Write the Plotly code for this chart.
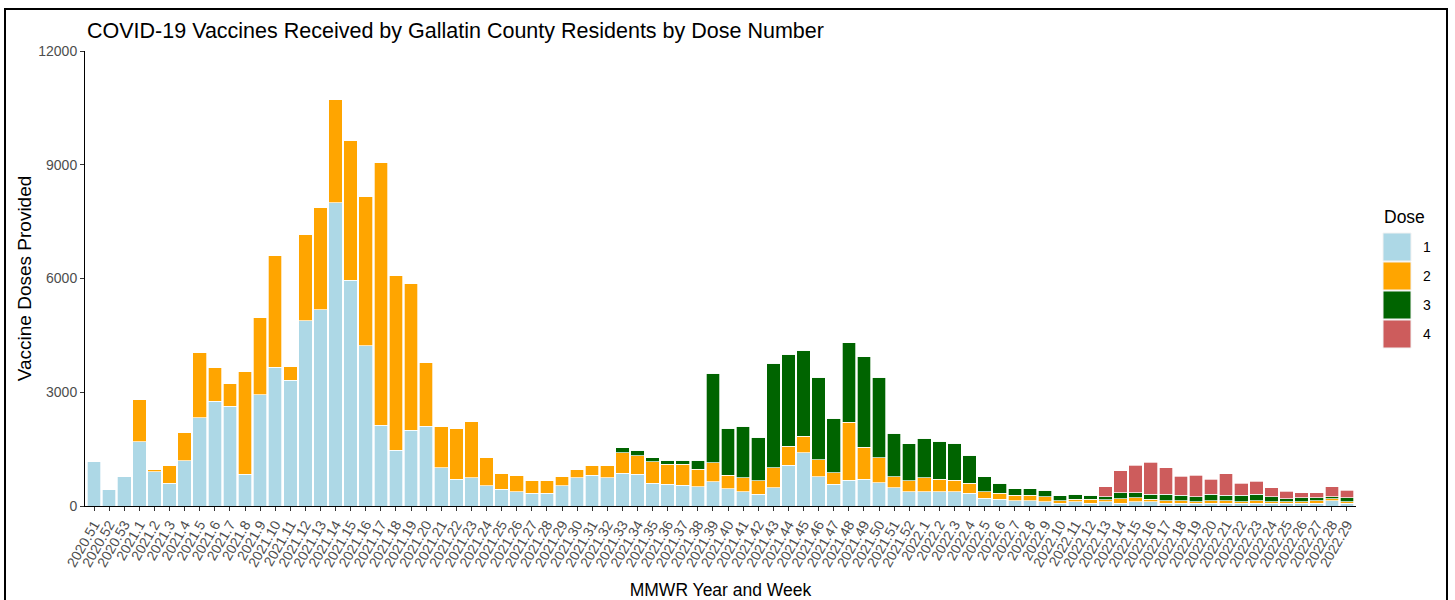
import plotly.graph_objects as go

weeks = ["2020.51", "2020.52", "2020.53"] + \
    ["2021.%d" % k for k in range(1, 53)] + ["2022.%d" % k for k in range(1, 30)]

dose1 = [1170, 440, 770, 1690, 900, 600, 1190, 2330, 2760, 2630,
         840, 2930, 3660, 3320, 4890, 5180, 8000, 5950, 4230, 2130,
         1470, 2000, 2100, 1010, 700, 740, 540, 440, 370, 340,
         340, 540, 740, 810, 740, 860, 840, 605, 580, 545,
         510, 640, 450, 380, 315, 475, 1080, 1405, 775, 580,
         675, 705, 615, 485, 380, 380, 380, 380, 335, 210,
         175, 140, 140, 115, 70, 115, 70, 115, 70, 115,
         115, 70, 70, 70, 70, 70, 70, 70, 70, 70,
         70, 70, 140, 70]

dose2 = [0, 0, 0, 1130, 65, 460, 740, 1720, 890, 600,
         2720, 2050, 2940, 370, 2280, 2700, 2730, 3680, 3940, 6930,
         4610, 3880, 1690, 1090, 1340, 1490, 730, 430, 440, 330,
         330, 240, 225, 250, 320, 540, 490, 560, 525, 560,
         465, 505, 360, 365, 355, 535, 500, 440, 440, 300,
         1530, 840, 660, 290, 290, 365, 330, 295, 270, 170,
         160, 140, 140, 130, 70, 60, 105, 45, 115, 105,
         60, 70, 70, 45, 70, 70, 45, 70, 45, 45,
         45, 70, 45, 45]

dose3 = [0, 0, 0, 0, 0, 0, 0, 0, 0, 0,
         0, 0, 0, 0, 0, 0, 0, 0, 0, 0,
         0, 0, 0, 0, 0, 0, 0, 0, 0, 0,
         0, 0, 0, 0, 0, 135, 135, 105, 100, 100,
         230, 2355, 1240, 1355, 1140, 2760, 2420, 2260, 2185, 1430,
         2095, 2395, 2125, 1140, 975, 1040, 995, 975, 730, 395,
         270, 170, 170, 170, 130, 140, 105, 85, 160, 125,
         140, 175, 140, 130, 175, 140, 165, 175, 130, 70,
         105, 80, 60, 105]

dose4 = [0] * 67 + [265, 580, 725,
                    835, 695, 500, 565, 395, 565, 325, 335, 230, 200,
                    125, 125, 265, 200]

dose_names = ["1", "2", "3", "4"]
dose_colors = ["#ADD8E6", "#FFA500", "#006400", "#CD5C5C"]
series = [dose1, dose2, dose3, dose4]

fig = go.Figure()
for name, vals, col in zip(dose_names, series, dose_colors):
    fig.add_trace(go.Bar(
        x=weeks, y=vals, name=name,
        marker=dict(color=col, line=dict(color="white", width=0.7)),
        showlegend=False,
    ))

W, H = 1455, 600
L, R, T, B = 85, 1356, 51, 506
pw, ph = R - L, B - T


def px(x):
    return (x - L) / pw


def py(y):
    return (B - y) / ph


shapes = []
annotations = []
# outer frame
shapes.append(dict(type="rect", xref="paper", yref="paper",
                   x0=px(5), x1=px(1447), y0=py(620), y1=py(9),
                   line=dict(color="black", width=2), fillcolor="rgba(0,0,0,0)"))
# manual legend
annotations.append(dict(text="Dose", xref="paper", yref="paper",
                        x=px(1382), y=py(217), xanchor="left", yanchor="middle",
                        showarrow=False, font=dict(size=17.5, color="black")))
tops = [233, 262, 291, 320]
for name, col, t in zip(dose_names, dose_colors, tops):
    shapes.append(dict(type="rect", xref="paper", yref="paper",
                       x0=px(1383), x1=px(1411), y0=py(t + 28), y1=py(t),
                       line=dict(color="#f2f2f2", width=1), fillcolor=col))
    annotations.append(dict(text=name, xref="paper", yref="paper",
                            x=px(1421), y=py(t + 14), xanchor="left", yanchor="middle",
                            showarrow=False, font=dict(size=14, color="black")))

fig.update_layout(
    width=W, height=H,
    margin=dict(l=L, r=W - R, t=T, b=H - B, autoexpand=False),
    paper_bgcolor="white", plot_bgcolor="white",
    font=dict(family="Liberation Sans, Arial, sans-serif", color="black"),
    barmode="stack", bargap=0.1,
    title=dict(text="COVID-19 Vaccines Received by Gallatin County Residents by Dose Number",
               x=87 / W, xanchor="left", xref="container",
               y=1 - 30 / H, yanchor="middle", yref="container",
               font=dict(size=21.5, color="black")),
    xaxis=dict(type="category", categoryorder="array", categoryarray=weeks,
               range=[-0.6, len(weeks) - 0.4],
               tickmode="array", tickvals=weeks, ticktext=weeks,
               showline=True, linecolor="black", linewidth=1,
               ticks="outside", ticklen=4, tickcolor="#333333",
               tickangle=-60, tickfont=dict(size=14, color="#4d4d4d"),
               showgrid=False, zeroline=False, automargin=False,
               title=dict(text="MMWR Year and Week", font=dict(size=17.5, color="black"),
                          standoff=15)),
    yaxis=dict(range=[0, 12000], tickvals=[0, 3000, 6000, 9000, 12000],
               tickformat="d",
               showline=True, linecolor="black", linewidth=1,
               ticks="outside", ticklen=4, tickcolor="#333333",
               tickfont=dict(size=14, color="#4d4d4d"),
               showgrid=False, zeroline=False, automargin=False,
               title=dict(text="Vaccine Doses Provided", font=dict(size=19, color="black"),
                          standoff=1)),
    shapes=shapes, annotations=annotations,
)

fig.write_html("out.html", config={"displayModeBar": False},
               post_script="document.body.style.margin='0';document.body.style.overflow='hidden';")
